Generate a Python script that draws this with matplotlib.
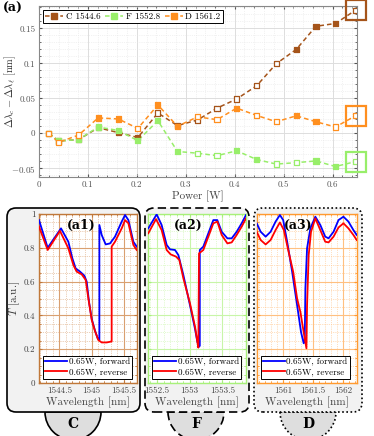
import numpy as np
import matplotlib
matplotlib.use("Agg")
import matplotlib.pyplot as plt
from matplotlib.patches import FancyBboxPatch, Wedge
from matplotlib.lines import Line2D
from matplotlib.ticker import MultipleLocator, FuncFormatter

plt.rcParams['font.family'] = ['cmr10', 'DejaVu Serif']
plt.rcParams['mathtext.fontset'] = 'cm'
plt.rcParams['axes.formatter.use_mathtext'] = True

# ---------------- data: top panel ----------------
power = [0.02, 0.04, 0.081, 0.121, 0.162, 0.202, 0.243, 0.283, 0.324, 0.364,
         0.404, 0.445, 0.485, 0.526, 0.566, 0.606, 0.647]
shift_C = [0.0, -0.011, -0.009, 0.008, 0.001, -0.006, 0.029, 0.011, 0.019, 0.036,
           0.049, 0.068, 0.0995, 0.12, 0.153, 0.157, 0.176]
shift_F = [0.0, -0.011, -0.009, 0.009, 0.004, -0.0105, 0.018, -0.026, -0.0285, -0.032,
           -0.025, -0.0375, -0.044, -0.042, -0.0395, -0.0475, -0.0405]
shift_D = [0.0, -0.013, -0.0025, 0.022, 0.0205, 0.007, 0.0405, 0.010, 0.0235, 0.0195,
           0.036, 0.0255, 0.0165, 0.025, 0.0165, 0.009, 0.025]
fill_C = [0, 1, 1, 1, 1, 1, 0, 1, 0, 0, 0, 0, 0, 1, 1, 1, 0]
fill_F = [0, 1, 1, 1, 1, 1, 1, 1, 0, 0, 1, 1, 0, 0, 1, 1, 0]
fill_D = [0, 0, 0, 1, 1, 0, 1, 1, 0, 0, 1, 0, 0, 1, 1, 0, 0]
series_labels = ["C 1544.6", "F 1552.8", "D 1561.2"]

# ---------------- data: bottom panels ----------------
a1_wl_fwd = [1544.184, 1544.319, 1544.526, 1544.640, 1544.702, 1544.754, 1544.821, 1544.889,
             1544.925, 1544.961, 1545.003, 1545.054, 1545.096, 1545.122, 1545.122, 1545.158,
             1545.220, 1545.288, 1545.365, 1545.469, 1545.521, 1545.573, 1545.650, 1545.702]
a1_T_fwd = [0.964, 0.800, 0.915, 0.836, 0.738, 0.678, 0.659, 0.635, 0.600, 0.480, 0.380,
            0.310, 0.264, 0.254, 0.935, 0.876, 0.820, 0.826, 0.866, 0.955, 0.994, 0.964,
            0.836, 0.807]
a1_wl_rev = [1544.184, 1544.319, 1544.510, 1544.640, 1544.718, 1544.769, 1544.847, 1544.909,
             1544.951, 1545.003, 1545.054, 1545.106, 1545.158, 1545.236, 1545.303, 1545.313,
             1545.313, 1545.365, 1545.469, 1545.521, 1545.573, 1545.650, 1545.702]
a1_T_rev = [0.925, 0.787, 0.900, 0.797, 0.698, 0.659, 0.643, 0.610, 0.500, 0.373, 0.307,
            0.254, 0.240, 0.240, 0.245, 0.245, 0.807, 0.836, 0.915, 0.964, 0.945, 0.817, 0.787]

a2_wl_fwd = [1552.367, 1552.495, 1552.571, 1552.648, 1552.699, 1552.776, 1552.827, 1552.903,
             1553.005, 1553.082, 1553.117, 1553.143, 1553.155, 1553.155, 1553.209, 1553.286,
             1553.362, 1553.423, 1553.490, 1553.577, 1553.643, 1553.719, 1553.796, 1553.862]
a2_T_fwd = [0.915, 0.998, 0.935, 0.817, 0.791, 0.787, 0.757, 0.640, 0.460, 0.320, 0.245,
            0.215, 0.220, 0.787, 0.807, 0.886, 0.964, 0.964, 0.895, 0.856, 0.856, 0.895,
            0.945, 0.994]
a2_wl_rev = [1552.367, 1552.485, 1552.571, 1552.648, 1552.709, 1552.791, 1552.842, 1552.903,
             1553.005, 1553.082, 1553.117, 1553.133, 1553.143, 1553.209, 1553.286, 1553.362,
             1553.423, 1553.490, 1553.577, 1553.643, 1553.719, 1553.796, 1553.862]
a2_T_rev = [0.886, 0.970, 0.905, 0.787, 0.761, 0.748, 0.728, 0.620, 0.471, 0.333, 0.245,
            0.209, 0.767, 0.787, 0.866, 0.945, 0.955, 0.876, 0.826, 0.832, 0.876, 0.925, 0.974]

a3_wl_fwd = [1560.561, 1560.627, 1560.710, 1560.793, 1560.876, 1560.948, 1561.003, 1561.069,
             1561.152, 1561.235, 1561.301, 1561.345, 1561.362, 1561.373, 1561.401, 1561.456,
             1561.539, 1561.622, 1561.704, 1561.760, 1561.843, 1561.925, 1562.008, 1562.091,
             1562.174, 1562.229]
a3_T_fwd = [0.945, 0.895, 0.866, 0.895, 0.955, 0.994, 0.964, 0.836, 0.659, 0.460, 0.300,
            0.235, 0.245, 0.560, 0.797, 0.915, 0.984, 0.935, 0.866, 0.856, 0.895, 0.964,
            0.984, 0.955, 0.905, 0.876]
a3_wl_rev = [1560.561, 1560.627, 1560.710, 1560.793, 1560.876, 1560.948, 1561.014, 1561.080,
             1561.169, 1561.235, 1561.290, 1561.345, 1561.390, 1561.401, 1561.428, 1561.467,
             1561.539, 1561.622, 1561.704, 1561.760, 1561.843, 1561.925, 1562.008, 1562.091,
             1562.174, 1562.229]
a3_T_rev = [0.895, 0.846, 0.820, 0.846, 0.905, 0.950, 0.905, 0.797, 0.659, 0.500, 0.420,
            0.300, 0.205, 0.460, 0.757, 0.895, 0.974, 0.905, 0.836, 0.832, 0.866, 0.920,
            0.945, 0.915, 0.876, 0.846]

panel_tags = ["(a1)", "(a2)", "(a3)"]
panel_letters = ["C", "F", "D"]
legend_labels = ["0.65W, forward", "0.65W, reverse"]

# ---------------- styling ----------------
col_C = '#a5541a'
col_F = '#98ee6a'
col_D = '#ff8f1f'
W, H = 374, 436
fig = plt.figure(figsize=(W / 100, H / 100), dpi=100)


def rect(x0, y0, x1, y1):
    return [x0 / W, 1 - y1 / H, (x1 - x0) / W, (y1 - y0) / H]


def _fmt(v, p):
    s = '%g' % round(v, 6)
    return '$' + s + '$' if s.startswith('-') else s


fmt = FuncFormatter(_fmt)

# ---------------- top panel ----------------
ax = fig.add_axes(rect(39, 6, 357, 177))
for ys, fills, c, lab in [(shift_C, fill_C, col_C, series_labels[0]),
                          (shift_F, fill_F, col_F, series_labels[1]),
                          (shift_D, fill_D, col_D, series_labels[2])]:
    ax.plot(power, ys, color=c, lw=1.1, dashes=(3, 2), zorder=3)
    fc = [c if f else 'white' for f in fills]
    ax.scatter(power, ys, marker='s', s=14, facecolors=fc, edgecolors=c,
               linewidths=0.9, zorder=4)
    ax.plot(power[-1:], ys[-1:], marker='s', ms=15, mfc='none', mec=c, mew=1.6,
            ls='none', clip_on=False, zorder=5)
ax.set_xlim(0, 0.65)
ax.set_ylim(-0.0625, 0.182)
ax.xaxis.set_major_locator(MultipleLocator(0.1))
ax.xaxis.set_minor_locator(MultipleLocator(0.02))
ax.yaxis.set_major_locator(MultipleLocator(0.05))
ax.yaxis.set_minor_locator(MultipleLocator(0.01))
ax.xaxis.set_major_formatter(fmt)
ax.yaxis.set_major_formatter(fmt)
ax.grid(which='major', color='#dddddd', lw=0.7)
ax.grid(which='minor', color='#e6e6e6', lw=0.5, ls=':')
ax.tick_params(which='both', direction='in', top=True, right=True, labelsize=6.5,
               colors='#555555', length=2.5, pad=2.5)
ax.tick_params(which='minor', length=1.2)
for s in ax.spines.values():
    s.set_color('#888888')
    s.set_linewidth(0.8)
ax.set_xlabel('Power [W]', fontsize=8, color='#444444', labelpad=1)
ax.set_ylabel(r'$\Delta\lambda_c - \Delta\lambda_\ell$ [nm]', fontsize=7.5, color='#333333',
              va='center')
ax.yaxis.set_label_coords((10 - 39) / 318, 0.5)
handles = [Line2D([], [], color=c, lw=1.1, dashes=(3, 2), marker='s', ms=4)
           for c in (col_C, col_F, col_D)]
leg = ax.legend(handles, series_labels, loc='upper left', ncol=3, fontsize=6.5,
                frameon=True, fancybox=False, edgecolor='black', framealpha=1,
                handlelength=2.0, handletextpad=0.3, columnspacing=0.5,
                borderpad=0.3, borderaxespad=0.4)
leg.get_frame().set_linewidth(0.7)
fig.text(3 / W, 1 - 8 / H, '(a)', fontsize=9, fontweight='bold',
         family='DejaVu Serif', va='center', ha='left')

# ---------------- bottom panels ----------------
boxes = [(7, 140, '-'), (145, 249, (0, (5, 2.5))), (254, 362, (0, (1, 1.5)))]
centers = [73, 196, 308]
for (x0, x1, ls), cx, letter in zip(boxes, centers, panel_letters):
    wedge = Wedge((cx / 100, (H - 412) / 100), 0.28, 180, 360,
                  transform=fig.dpi_scale_trans, facecolor='#dedede',
                  edgecolor='black', lw=1.2, linestyle=ls, zorder=-3)
    fig.add_artist(wedge)
    box = FancyBboxPatch((x0 / 100, (H - 412) / 100), (x1 - x0) / 100, 2.04,
                         boxstyle='round,pad=0,rounding_size=0.09',
                         transform=fig.dpi_scale_trans, facecolor='#f2f2f2',
                         edgecolor='black', lw=1.2, linestyle=ls, zorder=-2)
    fig.add_artist(box)
    fig.text(cx / W, 1 - 424 / H, letter, fontsize=10, fontweight='bold',
             family='DejaVu Serif', ha='center', va='center')

panels = [
    (rect(39, 214, 136.7, 383), a1_wl_fwd, a1_T_fwd, a1_wl_rev, a1_T_rev,
     (1544.184, 1545.702), '#c0783a', '#d9a070'),
    (rect(148.3, 214, 246, 383), a2_wl_fwd, a2_T_fwd, a2_wl_rev, a2_T_rev,
     (1552.367, 1553.862), '#a8f07a', '#c8f5a8'),
    (rect(256.7, 214, 356.7, 383), a3_wl_fwd, a3_T_fwd, a3_wl_rev, a3_T_rev,
     (1560.561, 1562.229), '#ff9a30', '#ffc080'),
]
for i, (r, wf, tf, wr, tr, xl, spc, grc) in enumerate(panels):
    a = fig.add_axes(r)
    a.set_facecolor('white')
    a.plot(wf, tf, color='#0000ff', lw=1.3, label=legend_labels[0], zorder=3)
    a.plot(wr, tr, color='#ff0000', lw=1.3, label=legend_labels[1], zorder=3)
    a.set_xlim(*xl)
    a.set_ylim(0, 1)
    a.xaxis.set_major_locator(MultipleLocator(0.5))
    a.xaxis.set_minor_locator(MultipleLocator(0.1))
    a.yaxis.set_major_locator(MultipleLocator(0.2))
    a.yaxis.set_minor_locator(MultipleLocator(0.05))
    a.xaxis.set_major_formatter(fmt)
    a.yaxis.set_major_formatter(fmt)
    a.grid(which='major', color=grc, lw=0.8)
    a.grid(which='minor', color=grc, lw=0.5, ls=':')
    a.tick_params(which='both', direction='in', top=True, right=True, labelsize=6.5,
                  colors='#444444', length=2.5, pad=2.5)
    a.tick_params(which='both', color=spc)
    a.tick_params(which='minor', length=1.2)
    for s in a.spines.values():
        s.set_color(spc)
        s.set_linewidth(1.0)
    if i == 0:
        a.set_ylabel('$T$ [a.u.]', fontsize=8, color='#333333', va='center')
        a.yaxis.set_label_coords((14 - 39) / 97.7, 0.5)
    else:
        a.tick_params(labelleft=False)
    a.set_xlabel('Wavelength [nm]', fontsize=8, color='#444444', labelpad=1)
    a.text(0.43 if i == 0 else 0.41, 0.935, panel_tags[i], transform=a.transAxes,
           fontsize=9, fontweight='bold', family='DejaVu Serif', ha='center', va='center',
           zorder=5)
    lg = a.legend(loc='lower left', bbox_to_anchor=(0.04, 0.025), fontsize=6.5,
                  frameon=True, fancybox=False, edgecolor='black', framealpha=1,
                  handlelength=2.4, handletextpad=0.2, borderpad=0.25,
                  labelspacing=0.2, borderaxespad=0)
    lg.get_frame().set_linewidth(0.7)

fig.savefig('out.png', dpi=100)
